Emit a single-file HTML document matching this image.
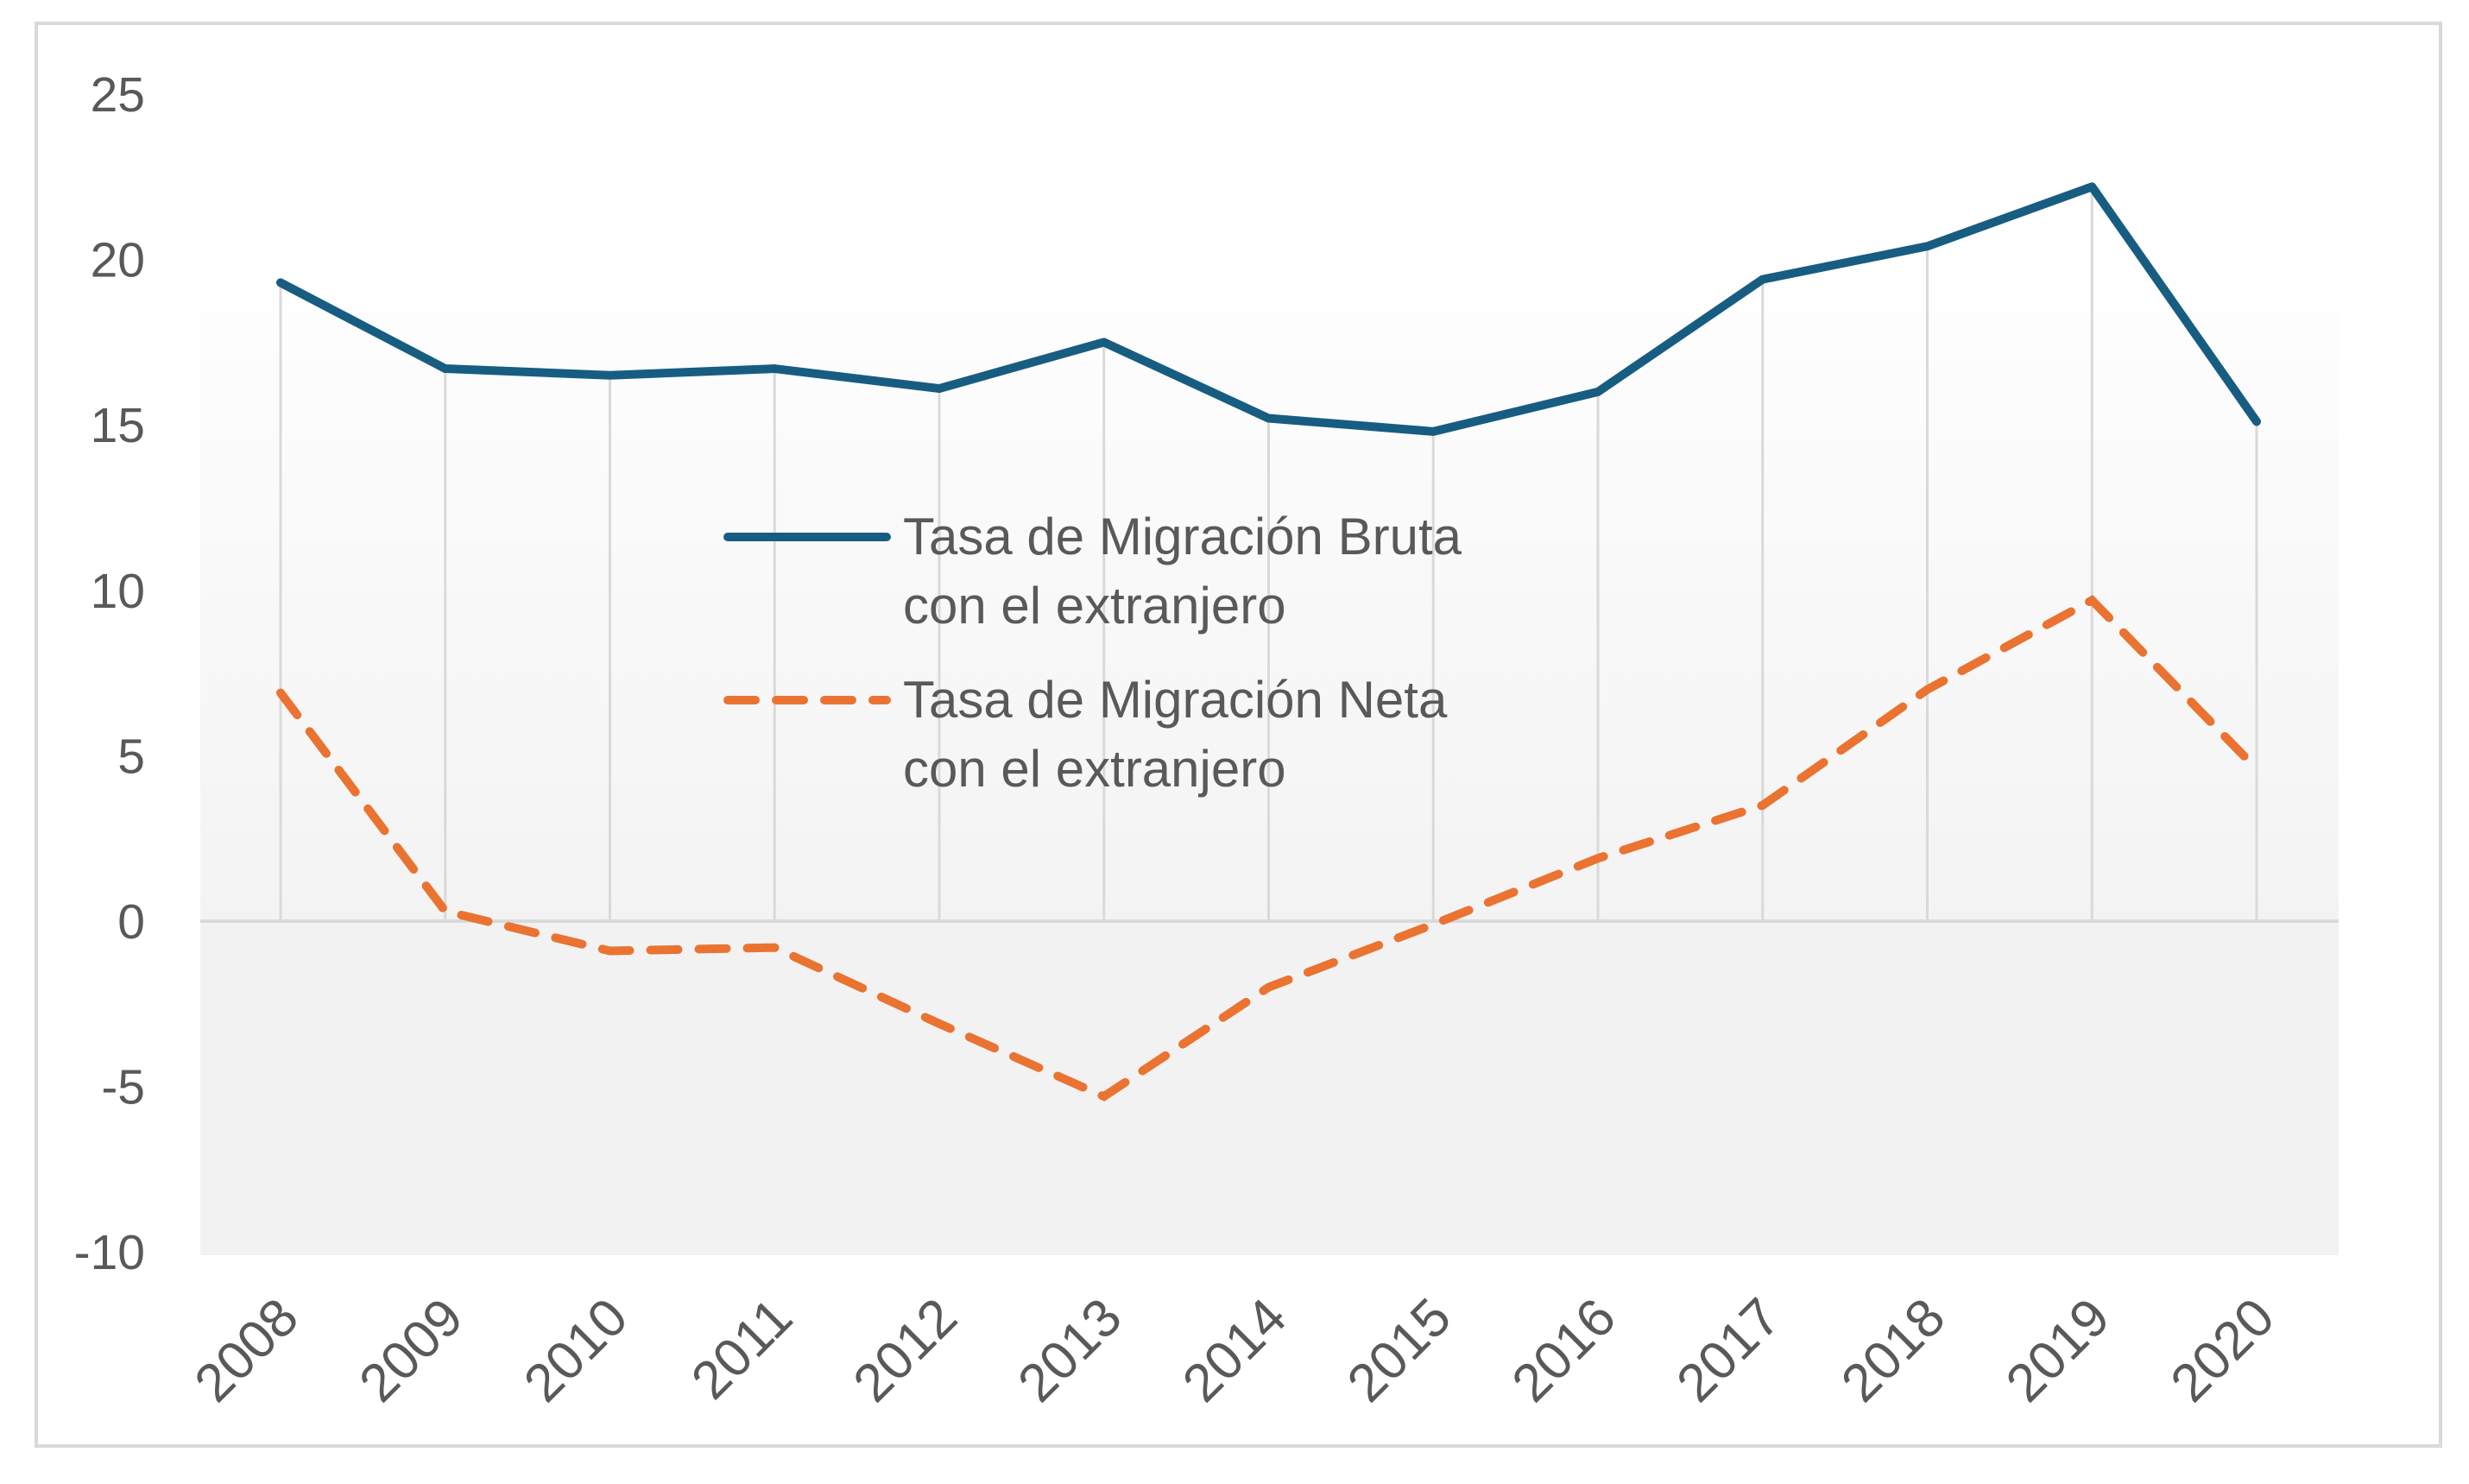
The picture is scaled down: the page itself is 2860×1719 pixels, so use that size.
<!DOCTYPE html>
<html><head><meta charset="utf-8"><style>
html,body{margin:0;padding:0;background:#fff;}
svg{display:block;}
text{font-family:"Liberation Sans Narrow","Liberation Sans",sans-serif;fill:#595959;}
</style></head><body>
<svg id="chart" width="2860" height="1719" viewBox="0 0 2860 1719" xmlns="http://www.w3.org/2000/svg">
<defs>
<linearGradient id="gpos" x1="0" y1="0" x2="0" y2="1">
<stop offset="0" stop-color="#ffffff"/><stop offset="1" stop-color="#f3f3f3"/>
</linearGradient>
</defs>
<rect x="42" y="27" width="2785" height="1648" fill="#fff" stroke="#d9d9d9" stroke-width="4"/>
<g id="plot"></g>
</svg>
<script>
const years = ["2008","2009","2010","2011","2012","2013","2014","2015","2016","2017","2018","2019","2020"];
const brutaValues = [19.3,16.7,16.5,16.7,16.1,17.5,15.2,14.8,16.0,19.4,20.4,22.2,15.1];
const netaValues = [6.9,0.3,-0.9,-0.8,-3.1,-5.3,-2.0,-0.1,1.9,3.5,7.0,9.7,4.6];
const yTicks = [25,20,15,10,5,0,-5,-10];
const legendBruta = ["Tasa de Migración Bruta","con el extranjero"];
const legendNeta = ["Tasa de Migración Neta","con el extranjero"];

const NS="http://www.w3.org/2000/svg";
const g=document.getElementById('plot');
function xs(i){return 325+i*190.75;}
function ys(v){return 1067-v*38.32;}
function mk(tag,attrs,parent){const e=document.createElementNS(NS,tag);for(const k in attrs)e.setAttribute(k,attrs[k]);(parent||g).appendChild(e);return e;}

const plotL=232,plotR=2709,plotB=1454,plotT=258;
let r=mk('rect',{x:plotL,y:plotT,width:plotR-plotL,height:ys(0)-plotT,fill:'url(#gpos)'});


r=mk('rect',{x:plotL,y:ys(0),width:plotR-plotL,height:plotB-ys(0),fill:'#f2f2f2'});



years.forEach((y,i)=>{
  const l=mk('line',{x1:xs(i),x2:xs(i),y1:ys(brutaValues[i]),y2:ys(0),stroke:'#d9d9d9','stroke-width':3});
  
  
});
let z=mk('line',{x1:plotL,x2:plotR,y1:ys(0),y2:ys(0),stroke:'#d9d9d9','stroke-width':4});



yTicks.forEach(v=>{
  const t=mk('text',{x:168,y:ys(v)+20,'text-anchor':'end','font-size':57});
  t.textContent=String(v);
  
  
});
years.forEach((y,i)=>{
  const t=mk('text',{x:0,y:0,'text-anchor':'end','font-size':62,transform:`translate(${xs(i)+24},${1530}) rotate(-45)`});
  t.textContent=y;
  
  
});

let p=mk('polyline',{points:brutaValues.map((v,i)=>xs(i)+','+ys(v)).join(' '),fill:'none',stroke:'#175d81','stroke-width':10,'stroke-linejoin':'round','stroke-linecap':'round'});


p=mk('polyline',{points:netaValues.map((v,i)=>xs(i)+','+ys(v)).join(' '),fill:'none',stroke:'#ea7331','stroke-width':10,'stroke-dasharray':'32 24','stroke-linecap':'round'});



let lg=mk('line',{x1:843,x2:1027,y1:622,y2:622,stroke:'#175d81','stroke-width':10,'stroke-linecap':'round'});


lg=mk('line',{x1:843,x2:1027,y1:811,y2:811,stroke:'#ea7331','stroke-width':10,'stroke-dasharray':'32 24','stroke-linecap':'round'});


[[legendBruta,642],[legendNeta,831]].forEach(([lines,y0],k)=>{
  lines.forEach((s,j)=>{
    const t=mk('text',{x:1046,y:y0+j*80,'font-size':60});
    t.textContent=s;
    
    
  });
});
</script>
</body></html>
